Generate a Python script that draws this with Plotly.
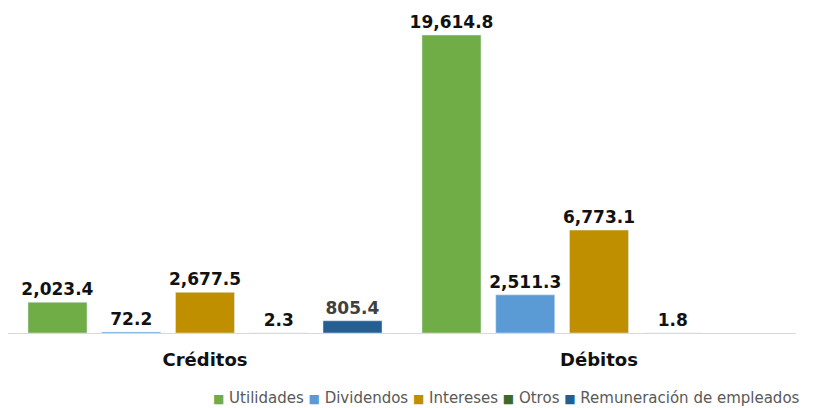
import plotly.graph_objects as go

categories = ["Créditos", "Débitos"]
series_names = ["Utilidades", "Dividendos", "Intereses", "Otros", "Remuneración de empleados"]
utilidades = [2023.4, 19614.8]
dividendos = [72.2, 2511.3]
intereses = [2677.5, 6773.1]
otros = [2.3, 1.8]
remuneracion = [805.4, None]

colors = ["#70AD47", "#5B9BD5", "#BF8F00", "#3B6B2A", "#255E91"]
label_colors = ["#111111", "#111111", "#111111", "#111111", "#404040"]
values = [utilidades, dividendos, intereses, otros, remuneracion]

fig = go.Figure()
for name, vals, col, lc in zip(series_names, values, colors, label_colors):
    fig.add_trace(go.Bar(
        name=name, x=categories, y=vals, marker_color=col,
        text=[("" if v is None else f"{v:,.1f}") for v in vals],
        textposition="outside", cliponaxis=False, constraintext="none",
        textfont=dict(family="DejaVu Sans", size=17, color=lc, weight="bold"),
        showlegend=False,
    ))

legend_html = " ".join(
    f"<span style='color:{c};font-size:12px'>■</span>&nbsp;{n}" for n, c in zip(series_names, colors)
)
fig.add_annotation(
    text=legend_html, xref="paper", yref="paper", x=1.008, xanchor="right",
    y=-0.204, yanchor="middle", showarrow=False,
    font=dict(family="DejaVu Sans", size=15, color="#595959"),
)

fig.update_layout(
    width=818, height=408,
    margin=dict(l=8, r=22, t=14, b=75, autoexpand=False),
    barmode="group", bargap=0.064, bargroupgap=0.2,
    plot_bgcolor="white", paper_bgcolor="white",
    xaxis=dict(showline=True, linecolor="#D9D9D9", linewidth=1,
               tickfont=dict(family="DejaVu Sans", size=18, color="#111111", weight="bold"),
               ticks="", ticklabelstandoff=10),
    yaxis=dict(range=[0, 21000], visible=False, showgrid=False),
)

fig.write_html("out.html")
